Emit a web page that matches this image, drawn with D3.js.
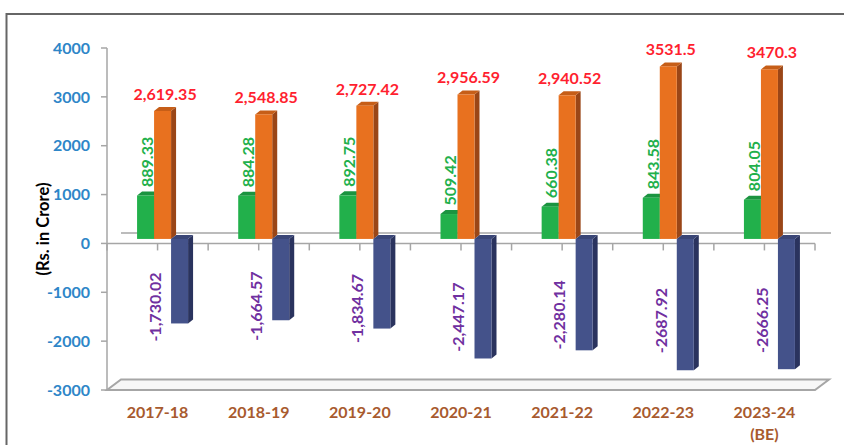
<!DOCTYPE html>
<html><head><meta charset="utf-8">
<script src="https://cdn.jsdelivr.net/npm/d3@7"></script>
<style>html,body{margin:0;padding:0;background:#fff}svg{display:block}</style>
</head><body>
<svg id="c" width="844" height="445"></svg>
<script>
const categories = ["2017-18","2018-19","2019-20","2020-21","2021-22","2022-23","2023-24"];
const categorySub = ["","","","","","","(BE)"];
const seriesGreen = [889.33, 884.28, 892.75, 509.42, 660.38, 843.58, 804.05];
const seriesOrange = [2619.35, 2548.85, 2727.42, 2956.59, 2940.52, 3531.5, 3470.3];
const seriesBlue = [-1730.02, -1664.57, -1834.67, -2447.17, -2280.14, -2687.92, -2666.25];
const labelGreen = ["889.33","884.28","892.75","509.42","660.38","843.58","804.05"];
const labelOrange = ["2,619.35","2,548.85","2,727.42","2,956.59","2,940.52","3531.5","3470.3"];
const labelBlue = ["-1,730.02","-1,664.57","-1,834.67","-2,447.17","-2,280.14","-2687.92","-2666.25"];
const yTicks = [4000,3000,2000,1000,0,-1000,-2000,-3000];
const yTitle = "(Rs. in Crore)";

const svg = d3.select("#c");
const font = "Lato, 'Open Sans', sans-serif";

// frame
svg.append("rect").attr("x",6.5).attr("y",14).attr("width",900).attr("height",600)
  .attr("fill","none").attr("stroke","#666").attr("stroke-width",2);

const y = d3.scaleLinear().domain([-3000,4000]).range([390,48]);
const x = d3.scaleBand().domain(categories).range([107,815]);
const bw = x.bandwidth();
const PDX = 14, PDY = -10.5;   // plot depth
const FDX = 5, FDY = -4.5;     // bar front offset
const BDX = 5, BDY = -4;       // bar depth
const barW = 17;
const axisCol = "#a6a6a6";

// floor
const yb = y(-3000);
svg.append("path")
  .attr("d", `M107,${yb} L815,${yb} L${815+PDX},${yb+PDY} L${107+PDX},${yb+PDY} Z`)
  .attr("fill","#f7f7f7").attr("stroke",axisCol).attr("stroke-width",2);

// y axis
svg.append("line").attr("x1",107).attr("x2",107).attr("y1",y(4000)).attr("y2",y(-3000))
  .attr("stroke",axisCol).attr("stroke-width",1.5);
const yt = svg.append("g");
yTicks.forEach(t=>{
  yt.append("line").attr("x1",101).attr("x2",107).attr("y1",y(t)).attr("y2",y(t))
    .attr("stroke",axisCol).attr("stroke-width",1.5);
  yt.append("text").attr("x",90).attr("y",y(t)).attr("dy","0.36em")
    .attr("text-anchor","end").attr("font-family",font).attr("font-weight","bold")
    .attr("font-size",16).attr("fill","#2e86c8").text(t);
});

// y title
svg.append("text").attr("transform","translate(43,229) rotate(-90)")
  .attr("text-anchor","middle").attr("dy","0.35em").attr("font-family",font)
  .attr("font-weight","bold").attr("font-size",16.5).attr("fill","#000").text(yTitle);

// zero plane lines
const y0 = y(0);
svg.append("line").attr("x1",107+PDX).attr("x2",815+PDX+2).attr("y1",y0+PDY).attr("y2",y0+PDY)
  .attr("stroke",axisCol).attr("stroke-width",1.5);
svg.append("line").attr("x1",107).attr("x2",815).attr("y1",y0).attr("y2",y0)
  .attr("stroke",axisCol).attr("stroke-width",1.5);
for(let i=0;i<=categories.length*2;i++){
  const tx = 107 + i*bw/2;
  svg.append("line").attr("x1",tx).attr("x2",tx).attr("y1",y0).attr("y2",y0+7)
    .attr("stroke",axisCol).attr("stroke-width",1.5);
}

const colors = [
  {front:"#22b04b", top:"#1b9440", side:"#167c35"},
  {front:"#e8711f", top:"#c65e18", side:"#9a4617"},
  {front:"#44528a", top:"#3a4677", side:"#2a335e"}
];
function bar(g, x0, v, c){
  const yv = y(v)+FDY, yz = y(0)+FDY;
  const top = Math.min(yv,yz), bot = Math.max(yv,yz);
  const x1 = x0+barW;
  g.append("path").attr("d",`M${x1},${top} L${x1+BDX},${top+BDY} L${x1+BDX},${bot+BDY} L${x1},${bot} Z`).attr("fill",c.side);
  g.append("path").attr("d",`M${x0},${top} L${x0+BDX},${top+BDY} L${x1+BDX},${top+BDY} L${x1},${top} Z`).attr("fill",c.top);
  g.append("rect").attr("x",x0).attr("y",top).attr("width",barW).attr("height",bot-top).attr("fill",c.front);
}
const bars = svg.append("g");
const series = [seriesGreen, seriesOrange, seriesBlue];
categories.forEach((cat,i)=>{
  const gx = x(cat) + (bw - 3*barW)/2 + FDX;
  series.forEach((s,k)=> bar(bars, gx + k*barW, s[i], colors[k]));
});

// labels
const lab = svg.append("g").attr("font-family",font).attr("font-weight","bold").attr("font-size",16);
const yRef = y(-2187);
categories.forEach((cat,i)=>{
  const gx = x(cat) + (bw - 3*barW)/2 + FDX;
  // orange
  lab.append("text").attr("x",gx+barW+barW/2+2.5).attr("y",y(seriesOrange[i])+FDY-11)
    .attr("text-anchor","middle").attr("fill","#ff1f2f").text(labelOrange[i]);
  // green
  lab.append("text").attr("transform",`translate(${gx+barW/2+1.5},${y(seriesGreen[i])+FDY-8.5}) rotate(-90)`)
    .attr("text-anchor","start").attr("dy","0.36em").attr("fill","#22b04b").text(labelGreen[i]);
  // blue
  const cy = 313.5 + 0.29*(y(seriesBlue[i]) - yRef);
  lab.append("text").attr("transform",`translate(${gx+2*barW-16},${cy}) rotate(-90)`)
    .attr("text-anchor","middle").attr("dy","0.36em").attr("fill","#7030a0").text(labelBlue[i]);
  // category
  const t = lab.append("text").attr("text-anchor","middle").attr("fill","#a85a2e");
  t.append("tspan").attr("x",x(cat)+bw/2).attr("y",418).text(cat);
  if(categorySub[i]) t.append("tspan").attr("x",x(cat)+bw/2).attr("y",440).text(categorySub[i]);
});
</script>
</body></html>
